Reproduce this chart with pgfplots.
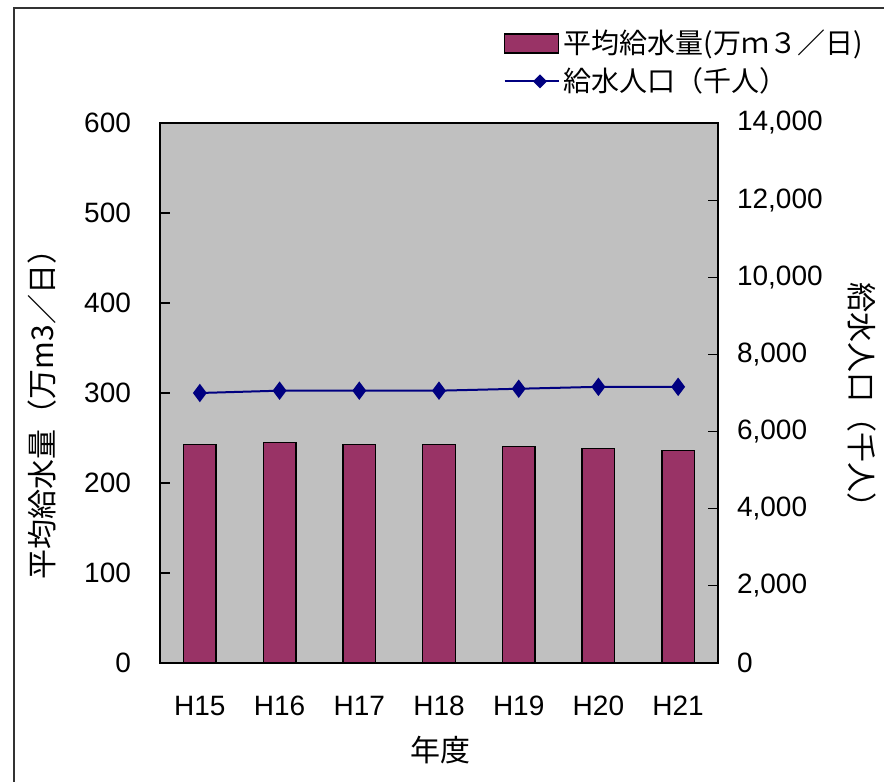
\documentclass[border=0pt]{standalone}
\usepackage{pgfplots}
\pgfplotsset{compat=1.18}
\usetikzlibrary{shapes.geometric}
\usepackage{fontspec}
\setmainfont{Liberation Sans}
\newfontfamily\cjk{Noto Sans CJK JP}
\definecolor{barc}{HTML}{993366}
\definecolor{linec}{HTML}{000080}
\definecolor{bgc}{HTML}{C0C0C0}
\newcommand{\fs}{\fontsize{14}{16}\selectfont}
\newcommand{\fl}{\fontsize{15}{17}\selectfont}
\begin{document}
\begin{tikzpicture}
\useasboundingbox (0,0) rectangle (442pt,391pt);
\fill[white] (0,0) rectangle (442pt,391pt);
\draw[line width=0.8pt, black!80] (7pt,0) -- (7pt,387pt) -- (442pt,387pt);
\begin{axis}[
  at={(80pt,59.5pt)}, anchor=south west,
  width=279pt, height=270pt, scale only axis,
  xmin=-0.5, xmax=6.5, ymin=0, ymax=600,
  axis background/.style={fill=bgc},
  axis line style={black, line width=0.6pt},
  xtick={0,...,6},
  xticklabels={H15,H16,H17,H18,H19,H20,H21},
  xtick style={draw=none},
  minor xtick={0.5,1.5,...,5.5},
  minor tick length=4.5pt,
  major tick length=5pt,
  tick align=inside,
  xtick pos=bottom, ytick pos=left,
  ytick={0,100,...,600},
  tick style={black, line width=0.6pt},
  minor tick style={black, line width=0.6pt},
  tick label style={font=\fs},
  /pgf/number format/assume math mode=true,
  yticklabel style={xshift=-11pt},
  xticklabel style={yshift=-13pt},
  xlabel={\cjk 年度},
  xlabel style={font=\fl, at={(axis description cs:0.502,-0.161)}, anchor=center},
  ylabel={\cjk 平均給水量（万m3／日）},
  ylabel style={font=\fl, at={(axis description cs:-0.211,0.474)}, anchor=center, rotate=0},
]
\addplot[ybar, bar width=16.3pt, fill=barc, draw=black, line width=0.7pt]
  coordinates {(0,242.6) (1,245.2) (2,242.6) (3,242.6) (4,240.3) (5,238.1) (6,235.9)};
\end{axis}
\begin{axis}[
  at={(80pt,59.5pt)}, anchor=south west,
  width=279pt, height=270pt, scale only axis,
  xmin=-0.5, xmax=6.5, ymin=0, ymax=14000,
  axis x line=none, axis y line*=right,
  axis line style={black, line width=0.6pt},
  ytick={0,2000,...,14000},
  major tick length=5pt, tick align=inside,
  tick style={black, line width=0.6pt},
  tick label style={font=\fs},
  /pgf/number format/assume math mode=true,
  /pgf/number format/1000 sep={,},
  scaled y ticks=false,
  yticklabel style={xshift=6pt},
  ylabel={\cjk 給水人口（千人）},
  ylabel style={font=\fl, at={(axis description cs:1.258,0.483)}, anchor=center, rotate=180},
  legend style={at={(axis description cs:0.615,1.18)}, anchor=north west, draw=none, fill=none,
    font=\fs, inner sep=0pt, row sep=1.5pt, cells={anchor=west}},
  legend cell align=left,
]
\addlegendimage{legend image code/.code={\draw[fill=barc, draw=black, line width=0.7pt] (0pt,-4.75pt) rectangle (27pt,4.75pt);}}
\addlegendentry{\cjk 平均給水量(万ｍ３／日)}
\addplot[color=linec, line width=1pt, mark=diamond*, mark size=3.8pt, mark options={fill=linec, draw=linec},
  legend image code/.code={\draw[color=linec, line width=1pt] (0pt,0pt) -- (27pt,0pt); \node[diamond, fill=linec, inner sep=0pt, minimum size=7.4pt] at (13.5pt,0pt) {};}]
  coordinates {(0,7000) (1,7060) (2,7060) (3,7060) (4,7110) (5,7160) (6,7160)};
\addlegendentry{\cjk 給水人口（千人）}
\end{axis}
\end{tikzpicture}
\end{document}
